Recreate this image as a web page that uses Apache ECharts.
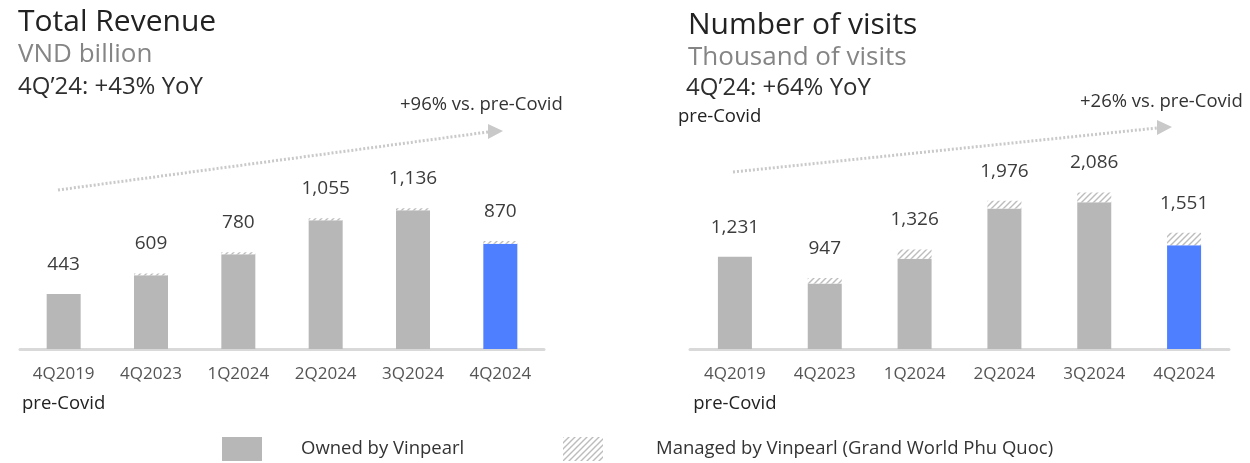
<!DOCTYPE html>
<html>
<head>
<meta charset="utf-8">
<script src="https://cdn.jsdelivr.net/npm/echarts@6/dist/echarts.min.js"></script>
<style>
  html, body { margin: 0; padding: 0; background: #fff; }
  #main { width: 1250px; height: 463px; }
</style>
</head>
<body>
<div id="main"></div>
<script>
// data
const quarters = ["4Q2019", "4Q2023", "1Q2024", "2Q2024", "3Q2024", "4Q2024"];
const revenueOwned = [443, 595, 764, 1039, 1118, 848];
const revenueManaged = [0, 14, 16, 16, 18, 22];
const visitsOwned = [1231, 872, 1202, 1874, 1957, 1382];
const visitsManaged = [0, 75, 124, 102, 129, 169];

const FONT = "Open Sans";
const GREY = "#b7b7b7";
const BLUE = "#4e7fff";

function hatch() {
  const c = document.createElement("canvas");
  c.width = 6;
  c.height = 6;
  const g = c.getContext("2d");
  g.fillStyle = "#ffffff";
  g.fillRect(0, 0, 6, 6);
  g.strokeStyle = "#bcbcbc";
  g.lineWidth = 1.4;
  g.beginPath();
  g.moveTo(0, 6); g.lineTo(6, 0);
  g.moveTo(-1, 1); g.lineTo(1, -1);
  g.moveTo(5, 7); g.lineTo(7, 5);
  g.stroke();
  return { image: c, repeat: "repeat" };
}
const pattern = hatch();

const fmt = (v) => v.toLocaleString("en-US");

function ownedData(arr) {
  return arr.map((v, i) =>
    i === arr.length - 1 ? { value: v, itemStyle: { color: BLUE } } : v
  );
}

function barPair(axis, owned, managed) {
  return [
    {
      name: "Owned by Vinpearl",
      type: "bar",
      stack: "s" + axis,
      xAxisIndex: axis,
      yAxisIndex: axis,
      barWidth: 34,
      itemStyle: { color: GREY },
      data: ownedData(owned),
    },
    {
      name: "Managed by Vinpearl (Grand World Phu Quoc)",
      type: "bar",
      stack: "s" + axis,
      xAxisIndex: axis,
      yAxisIndex: axis,
      barWidth: 34,
      itemStyle: { color: pattern },
      label: {
        show: true,
        position: "top",
        distance: 20,
        color: "#3c3c3c",
        fontFamily: FONT,
        fontSize: 19,
        formatter: (p) => fmt(owned[p.dataIndex] + managed[p.dataIndex]),
      },
      data: managed,
    },
  ];
}

function xAxis(grid) {
  return {
    type: "category",
    gridIndex: grid,
    data: quarters,
    axisTick: { show: false },
    axisLine: { lineStyle: { color: "#d9d9d9", width: 3 } },
    axisLabel: {
      interval: 0,
      color: "#555",
      fontFamily: FONT,
      fontSize: 17,
      margin: 10,
      lineHeight: 30,
      formatter: (v) => (v === "4Q2019" ? v + "\n{p|pre-Covid}" : v),
      rich: { p: { color: "#222", fontFamily: FONT, fontSize: 18.5, lineHeight: 30 } },
    },
  };
}

function txt(x, y, text, size, color) {
  return {
    type: "text",
    left: x,
    top: y,
    style: { text: text, fontFamily: FONT, fontSize: size, fill: color },
  };
}

function arrow(x1, y1, x2, y2) {
  return [
    {
      type: "line",
      shape: { x1: x1, y1: y1, x2: x2, y2: y2 },
      style: { stroke: "#c9c9c9", lineWidth: 3, lineDash: [2, 2] },
    },
    {
      type: "polygon",
      shape: { points: [[x2, y2 - 8], [x2 + 15, y2 - 1], [x2, y2 + 7]] },
      style: { fill: "#c9c9c9" },
    },
  ];
}

const legendText = { color: "#333", fontFamily: FONT, fontSize: 18.5 };

const chart = echarts.init(document.getElementById("main"));
chart.setOption({
  animation: false,
  grid: [
    { left: 20, width: 524, top: 101, height: 248 },
    { left: 690, width: 539, top: 124, height: 225 },
  ],
  xAxis: [xAxis(0), xAxis(1)],
  yAxis: [
    { type: "value", gridIndex: 0, min: 0, max: 2000, show: false },
    { type: "value", gridIndex: 1, min: 0, max: 3000, show: false },
  ],
  legend: [
    {
      data: ["Owned by Vinpearl"],
      left: 222,
      top: 437,
      padding: 0,
      icon: "rect",
      itemWidth: 40,
      itemHeight: 24,
      textStyle: { ...legendText, padding: [8, 0, 0, 34] },
    },
    {
      data: ["Managed by Vinpearl (Grand World Phu Quoc)"],
      left: 563,
      top: 437,
      padding: 0,
      icon: "rect",
      itemWidth: 40,
      itemHeight: 24,
      textStyle: { ...legendText, padding: [8, 0, 0, 48] },
    },
  ],
  series: [
    ...barPair(0, revenueOwned, revenueManaged),
    ...barPair(1, visitsOwned, visitsManaged),
  ],
  graphic: [
    txt(18, 7, "Total Revenue", 30, "#222"),
    txt(18, 42, "VND billion", 26, "#858585"),
    txt(18, 75, "4Q\u201924: +43% YoY", 24, "#2e2e2e"),
    txt(400, 95, "+96% vs. pre-Covid", 18.5, "#333"),
    ...arrow(58, 190, 488, 132),
    txt(688, 10, "Number of visits", 30, "#222"),
    txt(688, 45, "Thousand of visits", 26, "#858585"),
    txt(686, 76, "4Q\u201924: +64% YoY", 24, "#2e2e2e"),
    txt(678, 107, "pre-Covid", 18.5, "#222"),
    txt(1080, 92, "+26% vs. pre-Covid", 18.5, "#333"),
    ...arrow(733, 172, 1157, 128),
  ],
});
</script>
</body>
</html>
